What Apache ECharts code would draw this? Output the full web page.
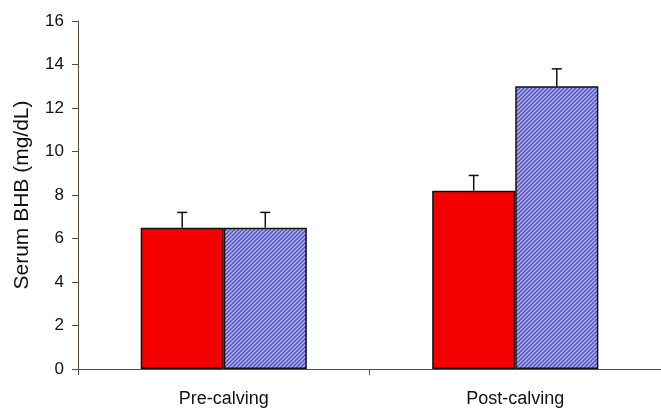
<!DOCTYPE html>
<html>
<head>
<meta charset="utf-8">
<script src="https://cdn.jsdelivr.net/npm/echarts@6/dist/echarts.min.js"></script>
<style>
  html, body { margin: 0; padding: 0; background: #fff; }
  #chart { width: 661px; height: 409px; }
</style>
</head>
<body>
<div id="chart"></div>
<script>
// Serum BHB by period, two treatment groups (mean with upward SE bar)
const categories = ['Pre-calving', 'Post-calving'];
const groupA = [6.5, 8.2];
const groupAErr = [0.7, 0.7];
const groupB = [6.5, 13.0];
const groupBErr = [0.7, 0.8];
const yTicks = [0, 2, 4, 6, 8, 10, 12, 14, 16];

const FONT = 'Liberation Sans, Arial, sans-serif';

// diagonal hatch fill for the second group
function hatch() {
  const s = 4;
  const c = document.createElement('canvas');
  c.width = s; c.height = s;
  const g = c.getContext('2d');
  g.fillStyle = '#aeaef0';
  g.fillRect(0, 0, s, s);
  g.strokeStyle = '#5050bf';
  g.lineWidth = 1.3;
  g.beginPath();
  g.moveTo(-1, s + 1); g.lineTo(s + 1, -1);
  g.moveTo(-1, 1); g.lineTo(1, -1);
  g.moveTo(s - 1, s + 1); g.lineTo(s + 1, s - 1);
  g.stroke();
  return c;
}

const GAP = 0.43;
function errSeries(vals, errs, side) {
  return {
    type: 'custom',
    z: 5,
    data: vals.map((v, i) => [i, v, errs[i]]),
    renderItem: function (params, api) {
      const band = api.size([1, 0])[0];
      const bw = band * (1 - GAP) / 2;
      const base = api.coord([api.value(0), api.value(1)]);
      const top = api.coord([api.value(0), api.value(1) + api.value(2)]);
      const x = base[0] + side * bw / 2;
      const half = 5;
      return {
        type: 'group',
        children: [
          { type: 'line', shape: { x1: x, y1: base[1], x2: x, y2: top[1] },
            style: { stroke: '#111', lineWidth: 1.5 } },
          { type: 'line', shape: { x1: x - half, y1: top[1], x2: x + half, y2: top[1] },
            style: { stroke: '#111', lineWidth: 1.5 } }
        ]
      };
    }
  };
}

const chart = echarts.init(document.getElementById('chart'), null, { renderer: 'canvas' });
chart.setOption({
  animation: false,
  grid: { left: 78, right: -3, top: 21, bottom: 40, containLabel: false },
  xAxis: {
    type: 'category',
    data: categories,
    axisLine: { lineStyle: { color: '#5e4a35', width: 1 } },
    axisTick: { show: true, alignWithLabel: false, length: 6, lineStyle: { color: '#5e4a35' } },
    axisLabel: { color: '#111', fontSize: 18, fontFamily: FONT, margin: 21 },
    splitLine: { show: false }
  },
  yAxis: {
    type: 'value',
    min: yTicks[0],
    max: yTicks[yTicks.length - 1],
    interval: 2,
    name: 'Serum BHB (mg/dL)',
    nameLocation: 'middle',
    nameGap: 45,
    nameTextStyle: { color: '#111', fontSize: 21, fontFamily: FONT },
    axisLine: { show: true, lineStyle: { color: '#5e4a35', width: 1 } },
    axisTick: { show: true, length: 6, lineStyle: { color: '#5e4a35' } },
    axisLabel: { color: '#111', fontSize: 17, fontFamily: FONT, margin: 14 },
    splitLine: { show: false }
  },
  series: [
    {
      type: 'bar',
      data: groupA,
      barGap: '0%',
      barCategoryGap: (GAP * 100) + '%',
      itemStyle: { color: '#f50000', borderColor: '#111', borderWidth: 1.5 }
    },
    {
      type: 'bar',
      data: groupB,
      itemStyle: { color: { image: hatch(), repeat: 'repeat' }, borderColor: '#111', borderWidth: 1.5 }
    },
    errSeries(groupA, groupAErr, -1),
    errSeries(groupB, groupBErr, 1)
  ]
});
</script>
</body>
</html>
